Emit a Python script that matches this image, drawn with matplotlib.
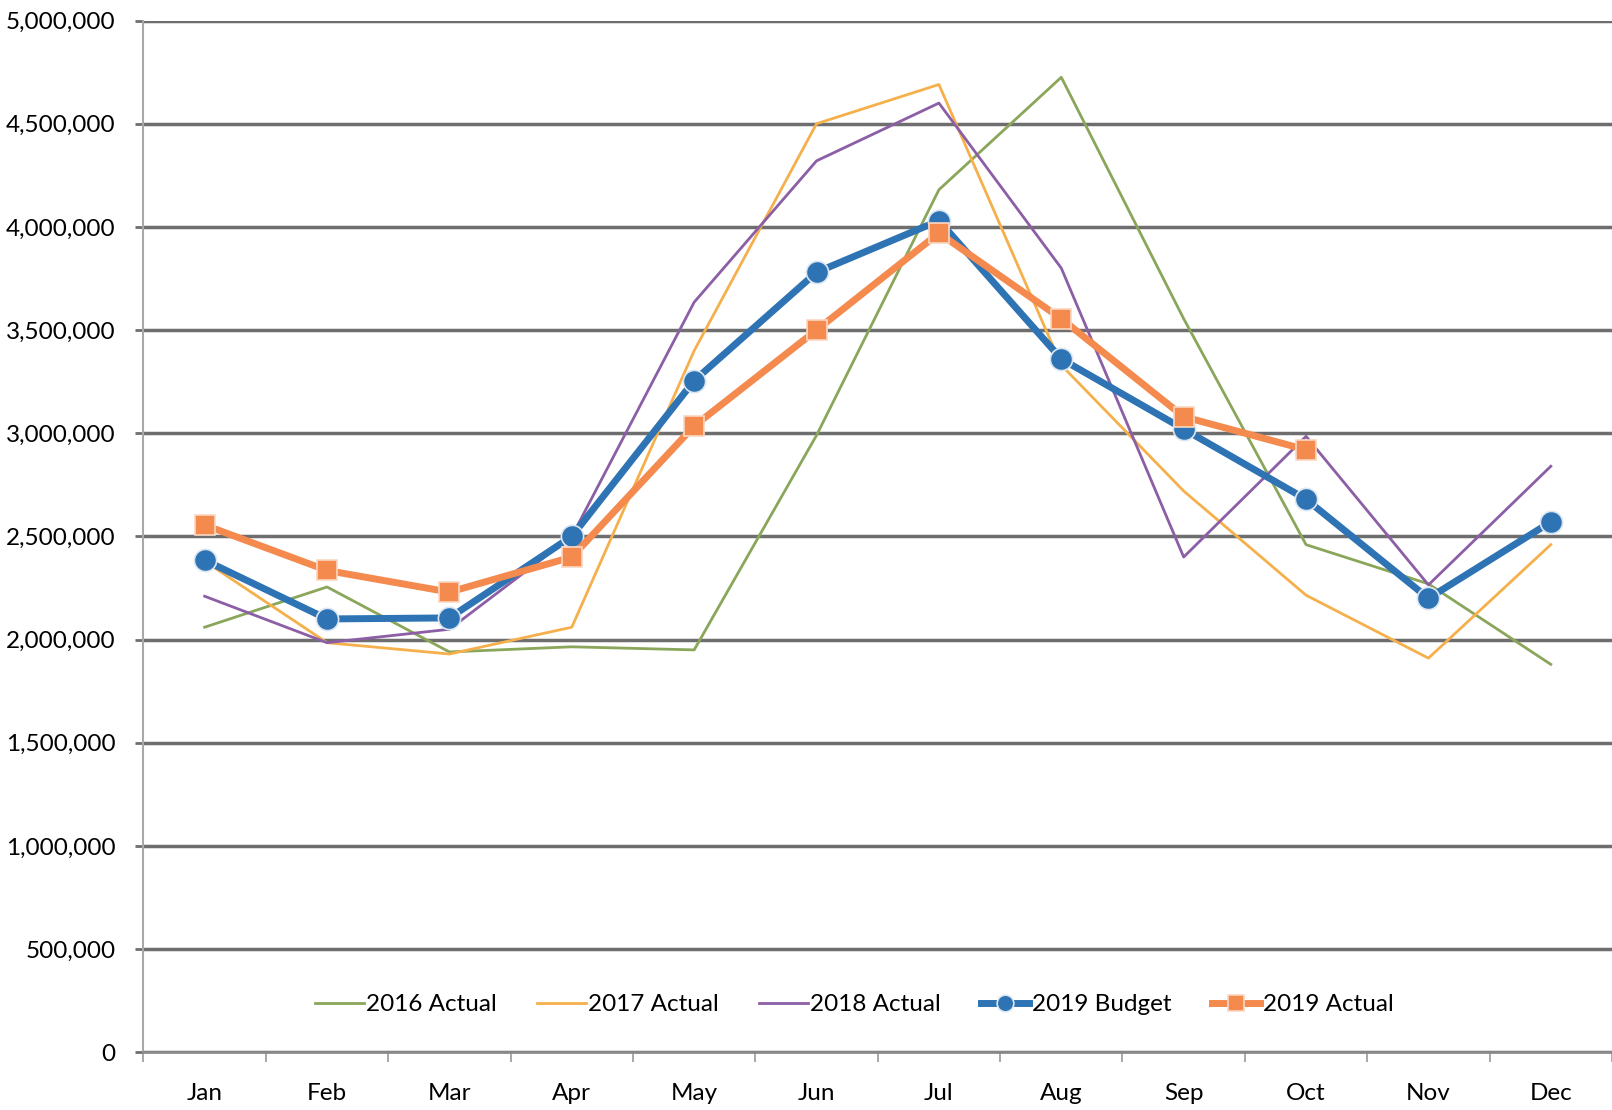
import matplotlib
matplotlib.use("Agg")
import matplotlib.pyplot as plt
import numpy as np
from matplotlib.ticker import FuncFormatter, MultipleLocator

plt.rcParams["font.family"] = ["Lato", "DejaVu Sans"]

months = ["Jan", "Feb", "Mar", "Apr", "May", "Jun",
          "Jul", "Aug", "Sep", "Oct", "Nov", "Dec"]

actual_2016 = [2060000, 2255000, 1940000, 1965000, 1950000, 2990000,
               4180000, 4725000, 3555000, 2460000, 2270000, 1880000]
actual_2017 = [2380000, 1985000, 1930000, 2060000, 3400000, 4500000,
               4690000, 3330000, 2720000, 2215000, 1910000, 2460000]
actual_2018 = [2210000, 1985000, 2050000, 2500000, 3635000, 4320000,
               4600000, 3800000, 2400000, 2985000, 2265000, 2840000]
budget_2019 = [2385000, 2100000, 2105000, 2500000, 3255000, 3780000,
               4030000, 3360000, 3020000, 2680000, 2200000, 2570000]
actual_2019 = [2555000, 2335000, 2230000, 2400000, 3035000, 3500000,
               3970000, 3555000, 3080000, 2920000]

x = np.arange(len(months))

fig = plt.figure(figsize=(16.12, 11.10), dpi=100)
ax = fig.add_axes([0.089, 0.052, 0.911, 0.9295])

grid_c = "#6e6e6e"
ax.plot(x, actual_2016, color="#8aa65a", lw=2, label="2016 Actual", zorder=3)
ax.plot(x, actual_2017, color="#f5b04c", lw=2, label="2017 Actual", zorder=3)
ax.plot(x, actual_2018, color="#8c5ea6", lw=2, label="2018 Actual", zorder=3)
ax.plot(x, budget_2019, color="#2e73b3", lw=5, marker="o", ms=16,
        mec="#dbe6f2", mew=1.2, label="2019 Budget", zorder=4)
ax.plot(x[:len(actual_2019)], actual_2019, color="#f48a4e", lw=5, marker="s",
        ms=15, mec="#fbd7c2", mew=1.2, label="2019 Actual", zorder=5)

ax.set_xlim(-0.5, 11.5)
ax.set_ylim(0, 5000000)
ax.yaxis.set_major_locator(MultipleLocator(500000))
ax.yaxis.set_major_formatter(FuncFormatter(lambda v, p: f"{int(v):,}"))
ax.grid(axis="y", color=grid_c, lw=2.5, zorder=1)
ax.set_axisbelow(True)

ax.set_xticks(x)
ax.set_xticklabels(months)
ax.set_xticks(np.arange(-0.5, 12, 1), minor=True)
ax.tick_params(axis="x", which="major", length=0, pad=22, labelsize=17.5)
ax.tick_params(axis="x", which="minor", length=7, color="#9a9a9a", width=1.2)
ax.tick_params(axis="y", length=6, color=grid_c, width=2, pad=14, labelsize=17.5)

for side in ("top", "right"):
    ax.spines[side].set_visible(False)
ax.spines["left"].set_color("#a8a8a8")
ax.spines["left"].set_linewidth(1.5)
ax.spines["bottom"].set_color("#8a8a8a")
ax.spines["bottom"].set_linewidth(2)

ax.legend(loc="center", bbox_to_anchor=(0.484, 0.046), ncol=5, frameon=False,
          fontsize=17.5, handlelength=2.0, handletextpad=0.1, columnspacing=1.65,
          markerscale=0.75)

fig.savefig("out.png", dpi=100)
